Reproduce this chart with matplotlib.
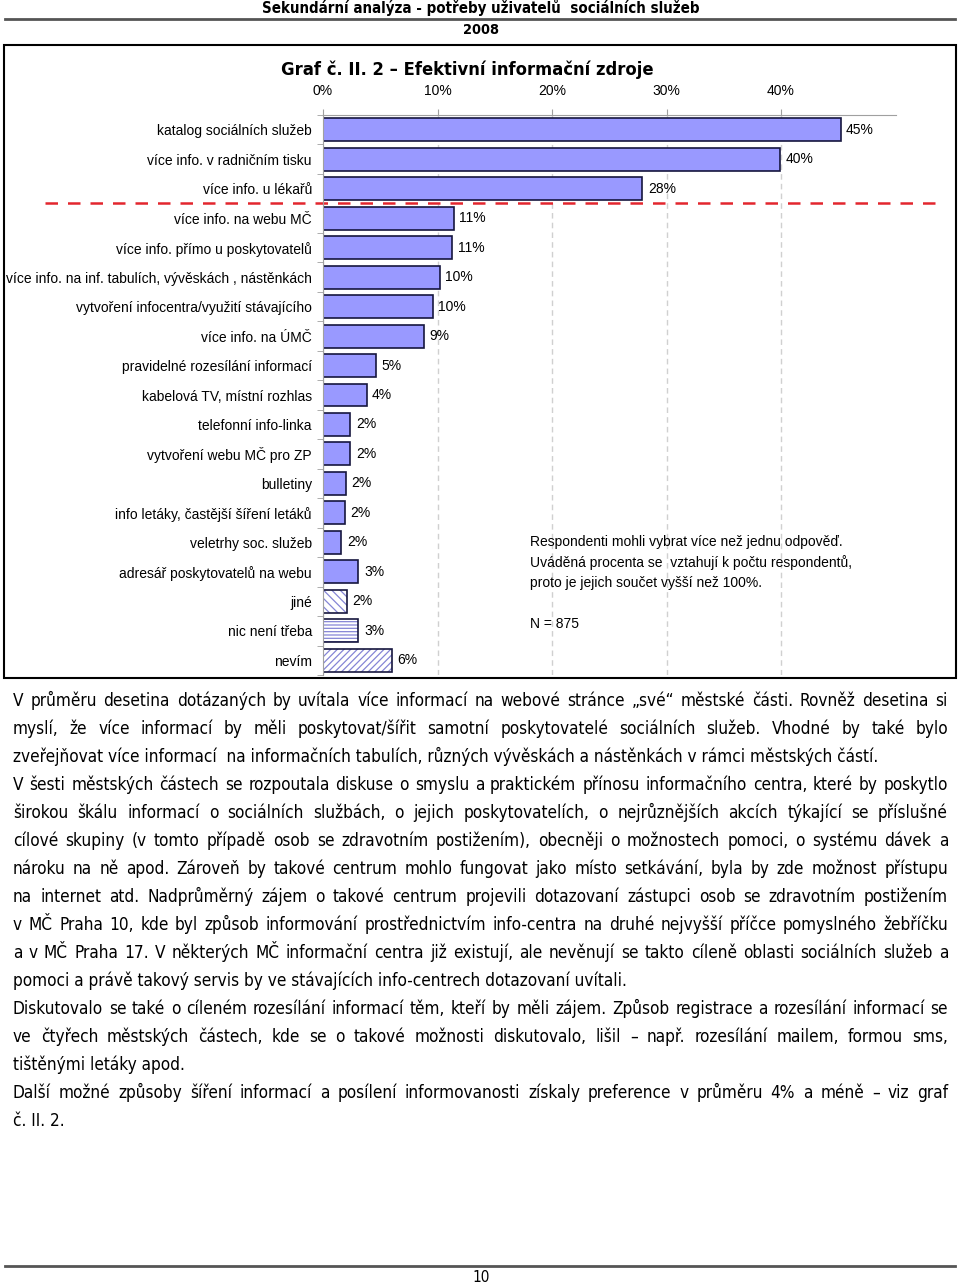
import os
import numpy as np
import matplotlib
matplotlib.use("Agg")
import matplotlib.pyplot as plt
from matplotlib import font_manager
from matplotlib.font_manager import FontProperties
from matplotlib.patches import Rectangle
from matplotlib.lines import Line2D

W, H = 960, 1285

# data
categories = [
    "katalog sociálních služeb",
    "více info. v radničním tisku",
    "více info. u lékařů",
    "více info. na webu MČ",
    "více info. přímo u poskytovatelů",
    "více info. na inf. tabulích, vývěskách , nástěnkách",
    "vytvoření infocentra/využití stávajícího",
    "více info. na ÚMČ",
    "pravidelné rozesílání informací",
    "kabelová TV, místní rozhlas",
    "telefonní info-linka",
    "vytvoření webu MČ pro ZP",
    "bulletiny",
    "info letáky, častější šíření letáků",
    "veletrhy soc. služeb",
    "adresář poskytovatelů na webu",
    "jiné",
    "nic není třeba",
    "nevím",
]
values = [45.2, 39.9, 27.9, 11.4, 11.3, 10.2, 9.6, 8.8, 4.6, 3.8,
          2.4, 2.4, 2.0, 1.9, 1.6, 3.1, 2.1, 3.1, 6.0]
xticks = [0, 10, 20, 30, 40]

header = "Sekundární analýza - potřeby uživatelů  sociálních služeb"
year = "2008"
title = "Graf č. II. 2 – Efektivní informační zdroje"
note_lines = ["Respondenti mohli vybrat více než jednu odpověď.",
              "Uváděná procenta se  vztahují k počtu respondentů,",
              "proto je jejich součet vyšší než 100%."]
n_note = "N = 875"
page_no = "10"

# (text, justified?)
body = [
    ("V průměru desetina dotázaných by uvítala více informací na webové stránce „své“ městské části. Rovněž desetina si", True),
    ("myslí, že více informací by měli poskytovat/šířit samotní poskytovatelé sociálních služeb. Vhodné by také bylo", True),
    ("zveřejňovat více informací  na informačních tabulích, různých vývěskách a nástěnkách v rámci městských částí.", False),
    ("V šesti městských částech se rozpoutala diskuse o smyslu a praktickém přínosu informačního centra, které by poskytlo", True),
    ("širokou škálu informací o sociálních službách, o jejich poskytovatelích, o nejrůznějších akcích týkající se příslušné", True),
    ("cílové skupiny (v tomto případě osob se zdravotním postižením), obecněji o možnostech pomoci, o systému dávek a", True),
    ("nároku na ně apod. Zároveň by takové centrum mohlo fungovat jako místo setkávání, byla by zde možnost přístupu", True),
    ("na internet atd. Nadprůměrný zájem o takové centrum projevili dotazovaní zástupci osob se zdravotním postižením", True),
    ("v MČ Praha 10, kde byl způsob informování prostřednictvím info-centra na druhé nejvyšší příčce pomyslného žebříčku", True),
    ("a v MČ Praha 17. V některých MČ informační centra již existují, ale nevěnují se takto cíleně oblasti sociálních služeb a", True),
    ("pomoci a právě takový servis by ve stávajících info-centrech dotazovaní uvítali.", False),
    ("Diskutovalo se také o cíleném rozesílání informací těm, kteří by měli zájem. Způsob registrace a rozesílání informací se", True),
    ("ve čtyřech městských částech, kde se o takové možnosti diskutovalo, lišil – např. rozesílání mailem, formou sms,", True),
    ("tištěnými letáky apod.", False),
    ("Další možné způsoby šíření informací a posílení informovanosti získaly preference v průměru 4% a méně – viz graf", True),
    ("č. II. 2.", False),
]

hatch_for = {"jiné": "\\\\\\\\", "nic není třeba": "-----", "nevím": "/////"}


def font_file(*names):
    files = {os.path.basename(f.fname): f.fname for f in font_manager.fontManager.ttflist}
    for n in names:
        if n in files:
            return files[n]
    return None


def fprops(path, family, size, weight="normal"):
    if path:
        return FontProperties(fname=path, size=size)
    return FontProperties(family=family, size=size, weight=weight)


body_path = font_file("DejaVuSansCondensed.ttf", "LiberationSansNarrow-Regular.ttf",
                      "LiberationSans-Regular.ttf")
narrow_bold = font_file("LiberationSansNarrow-Bold.ttf", "DejaVuSansCondensed-Bold.ttf",
                        "LiberationSans-Bold.ttf")

plt.rcParams["font.family"] = ["Liberation Sans", "DejaVu Sans"]
plt.rcParams["hatch.linewidth"] = 0.9

fig = plt.figure(figsize=(W / 100, H / 100), dpi=100)
renderer = fig.canvas.get_renderer()


def fx(px):
    return px / W


def fy(py):
    return 1 - py / H


def fit_text(s, cx, py, width, path, size0=12, **kw):
    t = fig.text(fx(cx), fy(py), s, fontproperties=fprops(path, "Liberation Sans", size0, "bold"),
                 ha="center", va="center", **kw)
    w = t.get_window_extent(renderer).width
    t.set_fontsize(size0 * width / w)
    return t


# page header / footer
fit_text(header, 481, 8, 438, narrow_bold)
fit_text(year, 481, 30, 36, narrow_bold)
fig.add_artist(Line2D([fx(5), fx(955)], [fy(19), fy(19)], transform=fig.transFigure,
                      color="#555555", lw=2))
fig.add_artist(Line2D([fx(5), fx(955)], [fy(1266), fy(1266)], transform=fig.transFigure,
                      color="#555555", lw=2))
fig.text(fx(481), fy(1278), page_no, fontproperties=fprops(body_path, "DejaVu Sans", 11),
         ha="center", va="center")

# chart frame and title
fig.add_artist(Rectangle((fx(4), fy(678)), 952 / W, 633 / H, transform=fig.transFigure,
                         fill=False, edgecolor="black", lw=1.5))
fit_text(title, 467, 70, 374, narrow_bold, size0=14)

# bar chart
ax = fig.add_axes([fx(323), fy(675), 572.5 / W, 560 / H])
ypos = np.arange(len(categories))
bar_face = "#9999ff"
bar_edge = "#16163e"
for yi, cat, v in zip(ypos, categories, values):
    h = hatch_for.get(cat)
    if h:
        ax.barh(yi, v, height=0.78, color="white", edgecolor="#8585d6", hatch=h, linewidth=0)
        ax.barh(yi, v, height=0.78, fill=False, edgecolor=bar_edge, linewidth=1.2)
    else:
        ax.barh(yi, v, height=0.78, color=bar_face, edgecolor=bar_edge, linewidth=1.2)
    ax.annotate(f"{v:.0f}%", (v, yi), xytext=(4, 0), textcoords="offset points",
                ha="left", va="center", fontsize=10)

ax.set_xlim(0, 50)
ax.set_ylim(len(categories) - 0.5, -0.5)
ax.xaxis.tick_top()
ax.set_xticks(xticks)
ax.set_xticklabels([f"{t}%" for t in xticks])
ax.set_yticks(ypos)
ax.set_yticklabels(categories)
ax.set_yticks(np.arange(len(categories) + 1) - 0.5, minor=True)
ax.tick_params(axis="x", length=4, color="#a0a0a0", pad=8, labelsize=10)
ax.tick_params(axis="y", which="major", length=0, pad=8, labelsize=10)
ax.tick_params(axis="y", which="minor", length=4, color="#a0a0a0")
for side in ["right", "bottom"]:
    ax.spines[side].set_visible(False)
for side in ["left", "top"]:
    ax.spines[side].set_color("#a0a0a0")
ax.grid(axis="x", color="#d0d0d0", linestyle=(0, (4, 3)), lw=1)
ax.set_axisbelow(True)
ax.axhline(2.5, xmin=(45 - 323) / 572.5, xmax=(935 - 323) / 572.5, color="#e3262e",
           lw=1.8, linestyle=(0, (5, 4)), clip_on=False)

for i, line in enumerate(note_lines):
    fig.text(fx(530), fy(546 + 20.5 * i), line, fontsize=10, ha="left", va="baseline")
fig.text(fx(530), fy(628), n_note, fontsize=10, ha="left", va="baseline")

# body text, justified between x0 and x1
x0, x1 = 13, 948
size = 12.5
probe = fig.text(0, 0, "", fontproperties=fprops(body_path, "DejaVu Sans", size))


def width_of(s, sz):
    probe.set_text(s)
    probe.set_fontsize(sz)
    return probe.get_window_extent(renderer).width


widest = max(width_of(s, size) for s, j in body if j)
if widest > 0.985 * (x1 - x0):
    size = size * 0.985 * (x1 - x0) / widest

for i, (line, just) in enumerate(body):
    base = 706 + 28 * i
    fp = fprops(body_path, "DejaVu Sans", size)
    if not just:
        fig.text(fx(x0), fy(base), line, fontproperties=fp, ha="left", va="baseline")
        continue
    words = line.split()
    widths = [width_of(w, size) for w in words]
    gap = (x1 - x0 - sum(widths)) / (len(words) - 1)
    x = x0
    for w, wd in zip(words, widths):
        fig.text(fx(x), fy(base), w, fontproperties=fp, ha="left", va="baseline")
        x += wd + gap
probe.remove()

fig.savefig("out.png", dpi=100)
